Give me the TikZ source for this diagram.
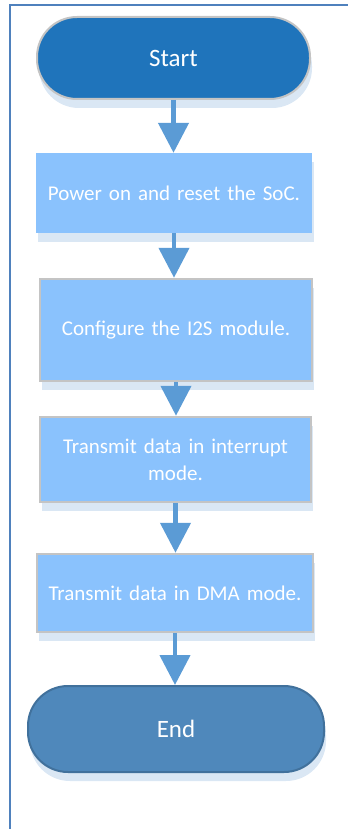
\documentclass[tikz,border=0pt]{standalone}
\usepackage{fontspec}
\setmainfont{Carlito}
\usetikzlibrary{arrows.meta,shadows}

\definecolor{startblue}{HTML}{1F74BB}
\definecolor{endblue}{HTML}{4F88BB}
\definecolor{enddark}{HTML}{41719C}
\definecolor{stepfill}{HTML}{8AC2FD}
\definecolor{rimgray}{HTML}{C4C4C4}
\definecolor{flowblue}{HTML}{5B9BD5}
\definecolor{framblue}{HTML}{4F81BD}
\definecolor{shadowblue}{HTML}{DAE7F4}

\tikzset{
  lowshadow/.style={drop shadow={fill=shadowblue, opacity=1, shadow xshift=2pt, shadow yshift=-9pt}},
  terminal/.style={rectangle, rounded corners=40pt, text=white, font=\fontsize{25}{30}\selectfont, line width=2pt, lowshadow},
  stepbox/.style={rectangle, fill=stepfill, text=white, align=center, text width=262pt, font=\fontsize{21}{27}\selectfont, lowshadow},
  flow/.style={draw=flowblue, line width=4.5pt, -{Triangle[length=30pt,width=30pt]}},
}

\begin{document}
\begin{tikzpicture}[x=1pt, y=-1pt]
  \useasboundingbox (0,0) rectangle (348,829);

  % Page frame
  \draw[framblue, line width=2pt] (10,829) -- (10,5) -- (348,5);

  % Start and end
  \node[terminal, fill=startblue, draw=rimgray, minimum width=273pt, minimum height=82pt] (start) at (173.5,58) {Start};
  \node[terminal, fill=endblue, draw=enddark, minimum width=296pt, minimum height=86pt] (finish) at (176,729) {End};

  % Steps
  \node[stepbox, minimum width=276pt, minimum height=80pt] (poweron) at (174,193) {Power on and reset the SoC.};
  \node[stepbox, draw=rimgray, line width=2.5pt, minimum width=272pt, minimum height=102pt] (configure) at (176,330) {Configure the I2S module.};
  \node[stepbox, draw=rimgray, line width=2.5pt, minimum width=271pt, minimum height=85pt] (irqmode) at (175.5,459.5) {Transmit data in interrupt\\mode.};
  \node[stepbox, draw=rimgray, line width=2.5pt, minimum width=276pt, minimum height=78pt] (dmamode) at (175,593) {Transmit data in DMA mode.};

  % Connectors
  \draw[flow] (start.south) -- (start.south |- poweron.north);
  \draw[flow] (poweron.south) -- (poweron.south |- configure.north);
  \draw[flow] (configure.south) -- (configure.south |- irqmode.north);
  \draw[flow] (irqmode.south) -- (irqmode.south |- dmamode.north);
  \draw[flow] (dmamode.south) -- (dmamode.south |- finish.north);
\end{tikzpicture}
\end{document}
